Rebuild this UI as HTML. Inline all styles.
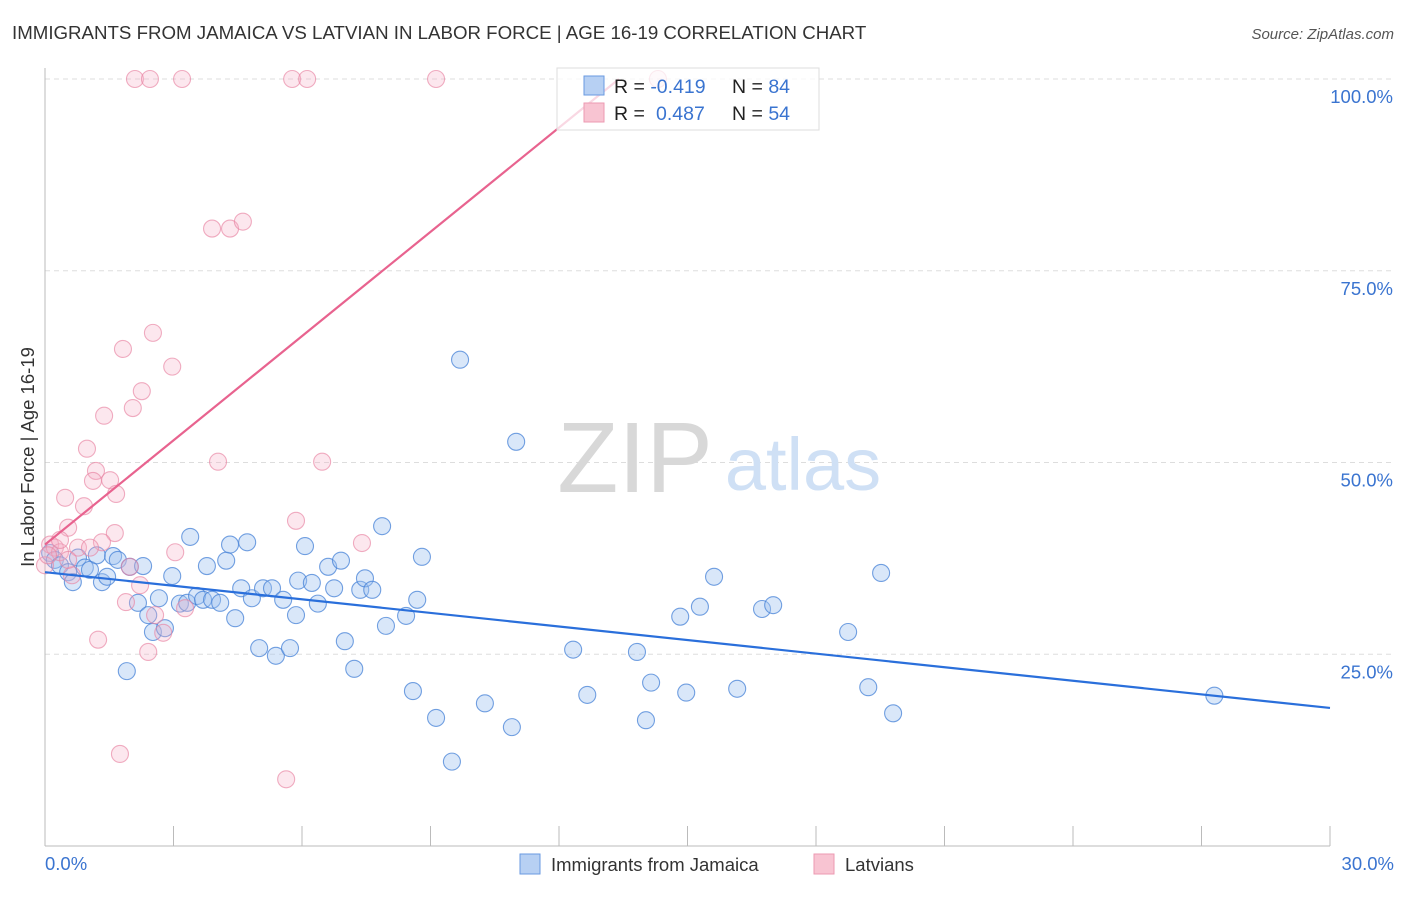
<!DOCTYPE html>
<html><head><meta charset="utf-8"><style>
body{margin:0;background:#fff;font-family:"Liberation Sans",sans-serif}
svg text{font-family:"Liberation Sans",sans-serif}
</style></head><body>
<svg width="1406" height="892" viewBox="0 0 1406 892">
<text x="12" y="39" font-size="18.7" fill="#333">IMMIGRANTS FROM JAMAICA VS LATVIAN IN LABOR FORCE | AGE 16-19 CORRELATION CHART</text>
<text x="1394" y="39" font-size="15" fill="#555" font-style="italic" text-anchor="end">Source: ZipAtlas.com</text>
<g id="grid"></g>
<g>
<text x="635" y="492" font-size="100" fill="#d8d8d8" text-anchor="middle" font-family="Liberation Serif,serif">ZIP</text>
<text x="803" y="490" font-size="74" fill="#cfe0f5" text-anchor="middle">atlas</text>
</g>
<line x1="45" y1="68" x2="45" y2="846" stroke="#bbb"/>
<line x1="45" y1="846" x2="1330" y2="846" stroke="#bbb"/>
<g id="ticks"></g>
<g id="pts"></g>
<g id="lines"></g>
<text transform="translate(34,457) rotate(-90)" font-size="18.5" fill="#333" text-anchor="middle">In Labor Force | Age 16-19</text>
<text x="45" y="870" font-size="18.5" fill="#3a74d0">0.0%</text>
<text x="1394" y="870" font-size="18.5" fill="#3a74d0" text-anchor="end">30.0%</text>
<g>
<rect x="557" y="68" width="262" height="62" fill="rgba(255,255,255,0.75)" stroke="#ddd"/>
<rect x="584" y="76" width="20" height="19" fill="#b7d0f3" stroke="#6a9ae0"/>
<rect x="584" y="103" width="20" height="19" fill="#f8c4d2" stroke="#ec9ab2"/>
<text x="614" y="93" font-size="19.5" fill="#222">R = <tspan fill="#3a74d0">-0.419</tspan></text>
<text x="732" y="93" font-size="19.5" fill="#222">N = <tspan fill="#3a74d0">84</tspan></text>
<text x="614" y="120" font-size="19.5" fill="#222">R = <tspan fill="#3a74d0" x="656">0.487</tspan></text>
<text x="732" y="120" font-size="19.5" fill="#222">N = <tspan fill="#3a74d0">54</tspan></text>
</g>
<g>
<rect x="520" y="854" width="20" height="20" fill="#b7d0f3" stroke="#6a9ae0"/>
<text x="551" y="871" font-size="18.5" fill="#333">Immigrants from Jamaica</text>
<rect x="814" y="854" width="20" height="20" fill="#f8c4d2" stroke="#ec9ab2"/>
<text x="845" y="871" font-size="18.5" fill="#333">Latvians</text>
</g>
</svg>
<script>
const yTicks=[25,50,75,100];
const yTickLabels=["25.0%","50.0%","75.0%","100.0%"];
const xTicks=[3,6,9,12,15,18,21,24,27,30];
const blueX=[0.12,0.23,0.35,0.54,0.65,0.77,0.93,1.05,1.21,1.33,1.45,1.59,1.70,1.98,2.17,2.29,2.41,2.52,2.66,2.80,2.97,3.15,3.32,3.39,3.55,3.69,3.78,3.90,4.09,4.23,4.32,4.44,4.58,4.72,4.83,5.00,5.09,5.30,5.39,5.56,5.72,5.86,5.91,6.07,6.23,6.37,6.61,6.75,6.91,7.00,7.22,7.36,7.47,7.64,7.87,7.96,8.43,8.59,8.69,8.80,9.13,9.50,9.69,10.27,10.90,11.00,12.33,12.66,13.82,14.03,14.15,14.83,14.97,15.29,15.62,16.16,16.74,17.00,18.75,19.22,19.52,19.80,27.30,1.91];
const blueY=[38.2,37.3,36.6,35.7,34.4,37.6,36.3,36.0,37.9,34.4,35.1,37.8,37.3,36.4,31.7,36.5,30.1,27.9,32.3,28.4,35.2,31.6,31.7,40.3,32.6,32.1,36.5,32.1,31.7,37.2,39.3,29.7,33.6,39.6,32.3,25.8,33.6,33.6,24.8,32.1,25.8,30.1,34.6,39.1,34.3,31.6,36.4,33.6,37.2,26.7,23.1,33.4,34.9,33.4,41.7,28.7,30.0,20.2,32.1,37.7,16.7,11.0,63.4,18.6,15.5,52.7,25.6,19.7,25.3,16.4,21.3,29.9,20.0,31.2,35.1,20.5,30.9,31.4,27.9,20.7,35.6,17.3,19.6,22.8];
const pinkX=[2.10,2.45,3.20,5.77,6.12,9.13,14.31,3.90,4.32,4.62,2.52,1.82,2.97,2.26,2.05,1.38,0.98,6.47,4.04,1.19,1.52,1.12,1.66,0.47,0.91,5.86,0.54,1.63,1.33,7.40,3.04,0.12,0.23,0.35,0.77,1.05,0.0,1.98,0.63,2.22,1.89,2.57,3.27,2.76,1.24,2.41,1.75,5.63,0.35,0.07,0.54];
const pinkY=[100,100,100,100,100,100,100,80.5,80.5,81.4,66.9,64.8,62.5,59.3,57.1,56.1,51.8,50.1,50.1,48.9,47.7,47.6,45.9,45.4,44.3,42.4,41.5,40.8,39.6,39.5,38.3,39.3,38.9,38.3,38.9,38.9,36.6,36.4,35.3,34.0,31.8,30.1,31.0,27.8,26.9,25.3,12.0,8.7,39.9,37.9,37.3];
const blueTrend=[35.7,18.0];
const pinkTrend=[39.3,4.53];
const NS='http://www.w3.org/2000/svg';
const X=v=>45+v/30*1285;
const Y=v=>846-v/100*767;
function mk(t,a,p){const e=document.createElementNS(NS,t);for(const k in a)e.setAttribute(k,a[k]);p.appendChild(e);return e;}
const grid=document.getElementById('grid');
yTicks.forEach((t,i)=>{
 const l=mk('line',{x1:45,x2:1393,y1:Y(t),y2:Y(t),stroke:'#ddd','stroke-dasharray':'5,4'},grid);
 
 
 const tx=mk('text',{x:1393,y:Y(t)+24,'font-size':18.5,fill:'#3a74d0','text-anchor':'end'},grid);
 tx.textContent=yTickLabels[i];
 
 
});
const tk=document.getElementById('ticks');
xTicks.forEach(t=>{
 const l=mk('line',{x1:X(t),x2:X(t),y1:826,y2:846,stroke:'#bbb'},tk);
 
 
});
const pts=document.getElementById('pts');
blueX.forEach((v,i)=>{
 const c=mk('circle',{cx:X(v),cy:Y(blueY[i]),r:8.5,fill:'rgba(160,195,240,0.4)',stroke:'rgba(70,130,215,0.75)','stroke-width':1.1},pts);
 
 
});
pinkX.forEach((v,i)=>{
 const c=mk('circle',{cx:X(v),cy:Y(pinkY[i]),r:8.5,fill:'rgba(245,175,198,0.3)',stroke:'rgba(232,130,162,0.65)','stroke-width':1.1},pts);
 
 
});
const ln=document.getElementById('lines');
const bl=mk('line',{x1:X(0),y1:Y(blueTrend[0]),x2:X(30),y2:Y(blueTrend[1]),stroke:'#2a6fdb','stroke-width':2.2},ln);


const xEnd=(100-pinkTrend[0])/pinkTrend[1];
const pl=mk('line',{x1:X(0),y1:Y(pinkTrend[0]),x2:X(xEnd),y2:Y(100),stroke:'#e8638f','stroke-width':2.2},ln);


</script>
</body></html>
